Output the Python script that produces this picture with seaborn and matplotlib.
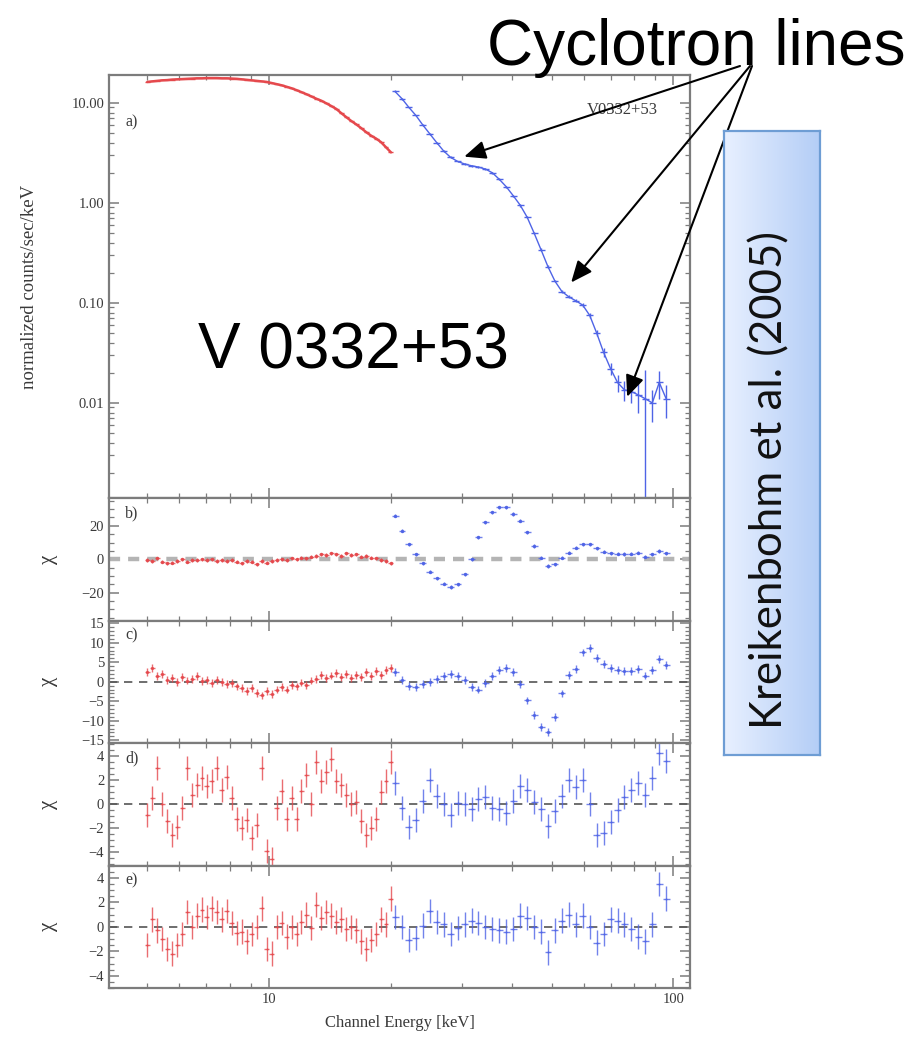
import numpy as np
import pandas as pd
import matplotlib
matplotlib.use("Agg")
import matplotlib.pyplot as plt
from matplotlib.ticker import (FixedLocator, FixedFormatter, LogLocator,
                               NullFormatter, MultipleLocator)
from matplotlib.colors import LinearSegmentedColormap
import seaborn as sns

# ---------------------------------------------------------------- data
# low-energy instrument (red), channel energies in keV
red_energy = [5.00, 5.14, 5.29, 5.44, 5.60, 5.76, 5.93, 6.10, 6.27, 6.45,
              6.64, 6.83, 7.02, 7.23, 7.43, 7.65, 7.87, 8.09, 8.33, 8.56,
              8.81, 9.06, 9.32, 9.59, 9.87, 10.15, 10.44, 10.74, 11.05, 11.37,
              11.70, 12.03, 12.38, 12.73, 13.10, 13.48, 13.86, 14.26, 14.67, 15.09,
              15.53, 15.97, 16.43, 16.90, 17.39, 17.89, 18.40, 18.93, 19.47, 20.03]
red_flux = [16.2, 16.4, 16.6, 16.8, 16.9, 17.1, 17.2, 17.3, 17.4, 17.5,
            17.6, 17.6, 17.7, 17.7, 17.7, 17.6, 17.6, 17.5, 17.4, 17.2,
            17.0, 16.8, 16.6, 16.4, 16.2, 15.8, 15.4, 15.0, 14.5, 14.0,
            13.4, 12.8, 12.2, 11.6, 11.0, 10.5, 9.9, 9.3, 8.7, 7.9,
            7.2, 6.6, 6.1, 5.6, 5.1, 4.7, 4.4, 4.05, 3.6, 3.2]
red_res_b = [-0.5, -1.0, 0.5, -1.5, -2.5, -2.0, -1.0, 0.0, -1.5, -0.5,
             -0.5, 0.0, -0.5, 0.0, -1.0, -0.5, -1.0, -0.5, -1.5, -2.5,
             -1.0, -1.5, -3.0, -1.0, -2.0, -1.0, -0.5, 0.0, -0.5, 0.5,
             0.0, 1.0, 0.5, 1.5, 2.0, 3.0, 2.5, 3.5, 3.0, 2.0,
             3.5, 2.5, 3.0, 1.5, 2.0, 1.0, 0.5, -0.5, -1.0, -2.5]
red_res_c = [2.5, 3.5, 1.5, 2.0, 0.5, 1.0, 0.0, 1.2, 0.3, 0.8,
             1.5, 0.2, 0.5, -0.3, 0.4, 0.0, -0.6, -0.3, -1.2, -1.5,
             -2.3, -1.6, -2.8, -3.5, -2.4, -3.2, -2.0, -1.4, -2.0, -0.8,
             -1.2, -0.2, -0.8, 0.3, 0.8, 1.8, 1.0, 1.6, 2.2, 1.2,
             1.9, 1.0, 1.8, 1.2, 2.4, 1.5, 2.8, 1.8, 3.0, 3.5]
red_res_d = [-0.9, 0.5, 3.0, 0.0, -1.4, -2.6, -1.9, -0.3, 3.0, 0.8,
             1.6, 2.2, 1.5, 1.9, 3.0, 1.2, 2.3, 0.5, -1.2, -2.0,
             -1.3, -2.8, -1.7, 3.0, -3.9, -4.6, -0.3, 1.1, -1.2, 0.5,
             -1.2, 1.1, 2.4, 0.0, 3.5, 1.9, 2.7, 3.8, 1.9, 1.6,
             0.8, 0.0, 0.2, -1.4, -2.6, -2.0, -1.2, 1.0, 1.9, 3.5]
red_res_e = [-1.5, 0.6, -0.3, -1.0, -1.8, -2.2, -1.5, -0.6, 1.2, 0.0,
             0.9, 1.4, 0.8, 1.5, 1.2, 0.6, 1.3, 0.3, -0.5, -0.4,
             -1.2, -0.6, 0.0, 1.5, -1.8, -2.2, 0.0, 0.3, -0.8, 0.0,
             -0.6, 0.4, 1.0, -0.1, 1.8, 0.7, 1.2, 0.9, 0.4, 0.6,
             -0.2, 0.0, -0.3, -1.2, -1.8, -1.1, -0.6, 0.6, 0.2, 2.3]

# high-energy instrument (blue)
blue_energy = [20.5, 21.33, 22.19, 23.08, 24.02, 24.99, 26.0, 27.05, 28.14, 29.28,
               30.46, 31.69, 32.97, 34.30, 35.69, 37.13, 38.63, 40.19, 41.81, 43.50,
               45.26, 47.09, 48.99, 50.97, 53.03, 55.17, 57.40, 59.72, 62.13, 64.64,
               67.25, 69.97, 72.80, 75.74, 78.80, 81.98, 85.29, 88.74, 92.32, 96.05]
blue_flux = [13.0, 11.0, 9.0, 7.5, 6.0, 4.9, 4.0, 3.3, 2.85, 2.6,
             2.45, 2.35, 2.28, 2.18, 2.0, 1.72, 1.45, 1.18, 0.95, 0.72,
             0.50, 0.34, 0.23, 0.165, 0.13, 0.115, 0.105, 0.095, 0.075, 0.05,
             0.032, 0.022, 0.016, 0.0135, 0.013, 0.012, 0.011, 0.010, 0.016, 0.011]
blue_flux_err = [0.3, 0.25, 0.2, 0.15, 0.12, 0.1, 0.08, 0.07, 0.06, 0.05,
                 0.05, 0.05, 0.05, 0.05, 0.05, 0.04, 0.04, 0.03, 0.03, 0.02,
                 0.015, 0.01, 0.007, 0.005, 0.004, 0.004, 0.004, 0.004, 0.004, 0.003,
                 0.003, 0.003, 0.003, 0.003, 0.003, 0.004, 0.0105, 0.0035, 0.005, 0.004]
blue_res_b = [26, 17, 9, 3, -2.5, -7.5, -11.5, -14.5, -16.5, -15,
              -9, 0, 13, 22, 28, 31, 31, 27, 23, 16,
              8, 1, -4, -3, 1, 4, 7, 9, 9, 6.5,
              4.5, 3.5, 3.4, 3.2, 3.4, 4, 1.5, 3, 5, 3.5]
blue_res_c = [2.4, 0.5, -1.0, -1.4, -0.6, 0.0, 0.7, 1.5, 2.0, 1.4,
              0.4, -1.4, -2.0, -0.4, 1.4, 3.0, 3.6, 2.6, -0.6, -4.8,
              -8.5, -11.5, -12.8, -9.0, -3.0, 1.8, 3.3, 7.5, 8.6, 6.0,
              4.6, 3.6, 3.0, 2.8, 2.8, 3.2, 1.6, 3.0, 5.8, 4.2]
blue_res_d = [1.8, -0.3, -1.9, -1.3, 0.3, 2.0, 0.7, 0.0, -0.9, 0.1,
              0.0, -0.4, 0.4, 0.6, -0.3, -0.4, -0.7, 0.3, 1.5, 1.2,
              0.2, -0.4, -1.8, -0.6, 0.7, 2.0, 1.4, 2.0, 0.0, -2.6,
              -2.4, -1.5, -0.5, 0.6, 1.2, 1.8, 0.8, 2.2, 4.3, 3.6]
blue_res_e = [0.8, 0.0, -1.1, -0.9, 0.1, 1.3, 0.4, 0.2, -0.6, -0.1,
              0.2, 0.5, 0.3, 0.0, -0.2, -0.3, -0.4, -0.2, 0.9, 0.7,
              0.0, -0.4, -2.1, -0.3, 0.5, 1.0, 0.2, 0.9, 0.0, -1.3,
              -0.6, 0.6, 0.5, 0.2, -0.2, -0.8, -1.2, 0.2, 3.5, 2.3]

# energies / fluxes the cyclotron-line arrows point at
cyclotron_marks = [(30.4, 2.9), (55.9, 0.16), (76.9, 0.0115)]

panel_letters = ["a)", "b)", "c)", "d)", "e)"]
flux_ticks = [10.0, 1.0, 0.1, 0.01]
flux_tick_labels = ["10.00", "1.00", "0.10", "0.01"]
res_ticks = [[-20, 0, 20],
             [-15, -10, -5, 0, 5, 10, 15],
             [-4, -2, 0, 2, 4],
             [-4, -2, 0, 2, 4]]

# ---------------------------------------------------------------- style
sns.set_theme(style="ticks")
plt.rcParams["font.family"] = ["Liberation Serif", "DejaVu Serif"]

W, H = 922, 1040
RED = "#e5494d"
BLUE = "#4f64e6"
FRAME = "#7c7c7c"
TXT = "#3a3a3a"


def fig_xy(px, py):
    """pixel position (from top-left) to figure fraction"""
    return px / W, 1 - py / H


def half_widths(centers):
    c = np.asarray(centers, dtype=float)
    mids = np.sqrt(c[1:] * c[:-1])
    lo = np.concatenate([[c[0] ** 2 / mids[0]], mids])
    hi = np.concatenate([mids, [c[-1] ** 2 / mids[-1]]])
    return np.vstack([c - lo, hi - c])


red = pd.DataFrame({"energy": red_energy, "flux": red_flux,
                    "b": red_res_b, "c": red_res_c, "d": red_res_d, "e": red_res_e})
blue = pd.DataFrame({"energy": blue_energy, "flux": blue_flux, "err": blue_flux_err,
                     "b": blue_res_b, "c": blue_res_c, "d": blue_res_d, "e": blue_res_e})
red_xerr = half_widths(red_energy)
blue_xerr = half_widths(blue_energy)

fig = plt.figure(figsize=(W / 100, H / 100), dpi=100)
fig.patch.set_facecolor("white")
gs = fig.add_gridspec(5, 1, height_ratios=[423, 122.5, 122.5, 122.5, 122.5],
                      hspace=0, left=109 / W, right=690 / W,
                      top=1 - 75 / H, bottom=1 - 988 / H)
ax_a = fig.add_subplot(gs[0])
axes = [ax_a] + [fig.add_subplot(gs[i], sharex=ax_a) for i in range(1, 5)]

# ---------------------------------------------------------------- panel a
sns.lineplot(data=red, x="energy", y="flux", ax=ax_a, color=RED, lw=1.8,
             sort=True, estimator=None)
ax_a.errorbar(red["energy"], red["flux"], xerr=red_xerr, fmt="none",
              ecolor=RED, elinewidth=1.0)
sns.lineplot(data=blue, x="energy", y="flux", ax=ax_a, color=BLUE, lw=1.0,
             estimator=None)
ax_a.errorbar(blue["energy"], blue["flux"], xerr=blue_xerr, yerr=blue["err"],
              fmt="none", ecolor=BLUE, elinewidth=1.0)
ax_a.set_yscale("log")
ax_a.set_ylim(0.00112, 19.0)
ax_a.yaxis.set_major_locator(FixedLocator(flux_ticks))
ax_a.yaxis.set_major_formatter(FixedFormatter(flux_tick_labels))
ax_a.yaxis.set_minor_locator(LogLocator(base=10, subs=np.arange(2, 10)))
ax_a.yaxis.set_minor_formatter(NullFormatter())
ax_a.set_ylabel("normalized counts/sec/keV", fontsize=13.5, color=TXT)
ax_a.yaxis.set_label_coords(-0.122, 0.5)
ax_a.text(0.945, 0.917, "V0332+53", transform=ax_a.transAxes, ha="right",
          va="center", fontsize=12, color=TXT)

# ---------------------------------------------------------------- residuals
res_cols = ["b", "c", "d", "e"]
res_lims = [36.6, 15.7, 5.1, 5.0]
res_minor = [5, 1, 0.5, 0.5]
res_marker = [6, 5, 2, 2]
for ax, col, lim, ticks, mstep, msize in zip(axes[1:], res_cols, res_lims,
                                             res_ticks, res_minor, res_marker):
    if col == "b":
        ax.axhline(0, color="#b4b4b4", lw=3.2, ls=(0, (2.5, 1.8)), zorder=1)
    else:
        ax.axhline(0, color="#555555", lw=1.2, ls=(0, (5, 4)), zorder=1)
    for df, xerr, colr in ((red, red_xerr, RED), (blue, blue_xerr, BLUE)):
        ax.errorbar(df["energy"], df[col], xerr=xerr, yerr=1.0, fmt="none",
                    ecolor=colr, elinewidth=1.0, alpha=0.8, zorder=2)
        sns.scatterplot(data=df, x="energy", y=col, ax=ax, color=colr, s=msize,
                        linewidth=0, zorder=3, legend=False)
    ax.set_ylim(-lim, lim)
    ax.yaxis.set_major_locator(FixedLocator(ticks))
    ax.yaxis.set_major_formatter(FixedFormatter(
        [str(t).replace("-", "\u2212") for t in ticks]))
    ax.yaxis.set_minor_locator(MultipleLocator(mstep))
    ax.set_ylabel("\u03c7", fontsize=15, color=TXT)
    ax.yaxis.set_label_coords(-0.088, 0.5)

# ---------------------------------------------------------------- shared axis cosmetics
for i, ax in enumerate(axes):
    ax.set_xscale("log")
    ax.set_xlim(4.02, 110)
    ax.xaxis.set_major_locator(FixedLocator([10, 100]))
    ax.xaxis.set_minor_locator(LogLocator(base=10, subs=np.arange(2, 10)))
    ax.xaxis.set_minor_formatter(NullFormatter())
    ax.tick_params(which="both", direction="in", top=True, right=True,
                   color=FRAME, labelcolor=TXT, labelsize=10.5)
    ax.tick_params(which="major", length=7, width=1.1)
    ax.tick_params(which="minor", length=3.5, width=0.9)
    for sp in ax.spines.values():
        sp.set_color(FRAME)
        sp.set_linewidth(1.6)
    ax.set_xlabel("")
    if i < 4:
        ax.tick_params(labelbottom=False)
    ax.text(0.028, 0.889 if i == 0 else 0.875, panel_letters[i],
            transform=ax.transAxes, ha="left", va="center", fontsize=11.5, color=TXT)

axes[-1].xaxis.set_major_formatter(FixedFormatter(["10", "100"]))
axes[-1].set_xlabel("Channel Energy [keV]", fontsize=12, color=TXT)
axes[-1].xaxis.set_label_coords(0.5, -0.22)
axes[-1].xaxis.label.set_va("top")

# ---------------------------------------------------------------- slide annotations
fig.text(*fig_xy(905, 65), "Cyclotron lines", ha="right", va="baseline",
         fontsize=46, family="Liberation Sans", color="black")
fig.text(*fig_xy(353, 368), "V 0332+53", ha="center", va="baseline",
         fontsize=46, family="Liberation Sans", color="black")

tails = [(740, 66), (750, 66), (752, 66)]
for (e, f), (tx, ty) in zip(cyclotron_marks, tails):
    ax_a.annotate("", xy=(e, f), xycoords="data",
                  xytext=(tx, H - ty), textcoords="figure pixels",
                  arrowprops=dict(arrowstyle="-|>,head_length=0.65,head_width=0.28",
                                  color="black", lw=1.5, shrinkA=0, shrinkB=0,
                                  mutation_scale=20),
                  annotation_clip=False)

# reference box with a horizontal blue gradient
bx0, by0 = fig_xy(724, 755)
box = fig.add_axes([bx0, by0, 96 / W, 624 / H])
grad = np.linspace(0, 1, 256)[None, :]
cmap = LinearSegmentedColormap.from_list("boxgrad", ["#e8f0ff", "#b3cdf6"])
box.imshow(grad, aspect="auto", cmap=cmap, extent=(0, 1, 0, 1))
box.set_xticks([])
box.set_yticks([])
for sp in box.spines.values():
    sp.set_color("#6e9dd4")
    sp.set_linewidth(1.6)
box.text(0.48, 0.44, "Kreikenbohm et al. (2005)", rotation=90, ha="center",
         va="center", fontsize=31.5, family="Lato", color="#111111",
         transform=box.transAxes)

fig.savefig("out.png", dpi=100, facecolor="white")
